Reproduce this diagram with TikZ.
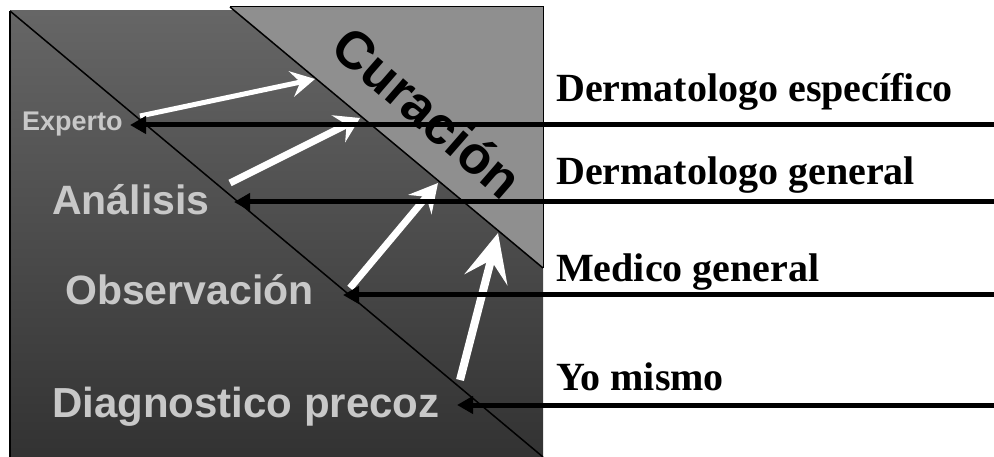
\documentclass[tikz,border=0pt]{standalone}
\usepackage{fontspec}
\setmainfont{Liberation Serif}
\setsansfont{Liberation Sans}
\usetikzlibrary{arrows.meta}
\definecolor{darktop}{RGB}{102,102,102}
\definecolor{darkbot}{RGB}{50,50,50}
\definecolor{curagray}{RGB}{143,143,143}
\definecolor{lbl}{RGB}{200,200,200}
\tikzset{
  lefttext/.style={anchor=base west, inner sep=0pt, text=lbl, font=\sffamily\bfseries\fontsize{#1}{#1}\selectfont},
  righttext/.style={anchor=base west, inner sep=0pt, text=black, font=\rmfamily\bfseries\fontsize{40}{40}\selectfont},
  blackarrow/.style={draw=black, line width=5pt, -{Triangle[length=16pt,width=17pt]}},
  whitearrow/.style={draw=white, line width=#1},
  thinline/.style={draw=black, line width=1.5pt}
}
\begin{document}
\begin{tikzpicture}[x=1pt,y=-1pt]
\useasboundingbox (0,0) rectangle (994,457);
% dark background block
\shade[top color=darktop, bottom color=darkbot] (10,11) rectangle (543,460);
\draw[black, line width=2pt] (10,460) -- (10,11);
% curación triangle
\fill[curagray] (230,7) -- (543,7) -- (543,268) -- cycle;
\draw[black, line width=1pt] (230,7) -- (543,7) -- (543,268);
\draw[thinline] (230,7) -- (543,268);
% diagonal line
\draw[thinline] (10,11) -- (543,457);
% labels
\node[lefttext=27] (exp) at (22,131) {Experto};
\node[lefttext=41] (ana) at (52,215) {Análisis};
\node[lefttext=41] (obs) at (65,305) {Observación};
\node[lefttext=42] (dia) at (52,417) {Diagnostico precoz};
\node[rotate=-41, inner sep=0pt, font=\sffamily\bfseries\fontsize{53}{53}\selectfont] (cur) at (428,112) {Curación};
\node[righttext] (de) at (556,102) {Dermatologo específico};
\node[righttext] (dg) at (556,185) {Dermatologo general};
\node[righttext] (mg) at (556,282) {Medico general};
\node[righttext] (ym) at (556,390) {Yo mismo};
% coordinates for arrows
\coordinate (r1) at (994,125); \coordinate (t1) at (130,125);
\coordinate (r2) at (994,202); \coordinate (t2) at (234,202);
\coordinate (r3) at (994,295); \coordinate (t3) at (343,295);
\coordinate (r4) at (994,405); \coordinate (t4) at (457,405);
\coordinate (w1s) at (140,116); \coordinate (w1e) at (315,79);
\coordinate (w2s) at (230,183); \coordinate (w2e) at (360,118);
\coordinate (w3s) at (350,288); \coordinate (w3e) at (438,183);
\coordinate (w4s) at (460,380); \coordinate (w4e) at (498,233);
% white arrows
\draw[whitearrow=5pt, -{Stealth[length=24pt,width=26pt,inset=9pt]}] (w1s) -- (w1e);
\draw[whitearrow=7pt, -{Stealth[length=24pt,width=30pt,inset=9pt]}] (w2s) -- (w2e);
\draw[whitearrow=7pt, -{Stealth[length=28pt,width=30pt,inset=10pt]}] (w3s) -- (w3e);
\draw[whitearrow=8pt, -{Stealth[length=48pt,width=44pt,inset=20pt]}] (w4s) -- (w4e);
% black arrows
\draw[blackarrow] (r1) -- (t1);
\draw[blackarrow] (r2) -- (t2);
\draw[blackarrow] (r3) -- (t3);
\draw[blackarrow] (r4) -- (t4);
\end{tikzpicture}
\end{document}
